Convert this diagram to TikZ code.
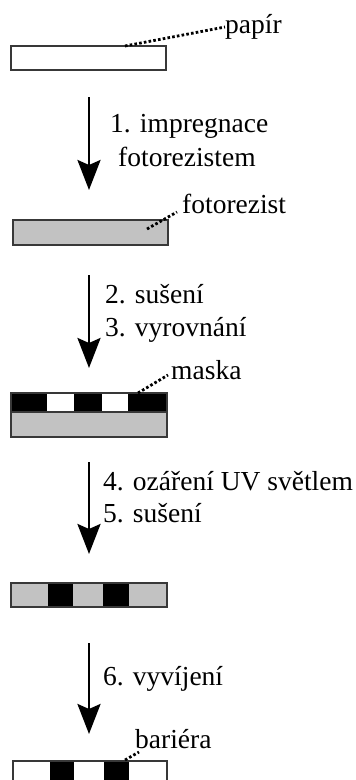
\documentclass[tikz,border=0pt]{standalone}
\usepackage{fontspec}
\setmainfont{Liberation Serif}
\usetikzlibrary{arrows.meta}
\definecolor{resist}{HTML}{C2C2C2}
\definecolor{edge}{HTML}{383838}
\tikzset{
  lbl/.style={anchor=base west, inner sep=0pt, font=\fontsize{27.5}{33}\selectfont},
  layer/.style={draw=edge, line width=1.3pt},
  leader/.style={line width=2.8pt, dash pattern=on 2.6pt off 2.2pt},
  stepflow/.style={line width=2.8pt, -{Stealth[length=30pt, width=23pt, inset=5pt]}},
}
\begin{document}
\begin{tikzpicture}[x=1pt, y=-1pt]
\clip (0,0) rectangle (356,780);
\fill[white] (0,0) rectangle (356,780);

% paper
\draw[layer, fill=white] (11,46) rectangle (166,70);
\coordinate (papL) at (125,46);
\node[lbl] (pap) at (225,33) {papír};
\draw[leader] (papL) -- (pap.west |- 0,27);

% step 1
\coordinate (a1s) at (89,97);
\coordinate (a1e) at (89,190);
\draw[stepflow] (a1s) -- (a1e);
\node[lbl] (s1a) at (110,132) {1. impregnace};
\node[lbl] (s1b) at (118,166) {fotorezistem};

% impregnated paper
\draw[layer, fill=resist] (13,220) rectangle (168,245);
\coordinate (fotL) at (147,229);
\node[lbl] (fot) at (182,213) {fotorezist};
\draw[leader] (fotL) -- (177,212);

% steps 2, 3
\coordinate (a2s) at (89,275);
\coordinate (a2e) at (89,368);
\draw[stepflow] (a2s) -- (a2e);
\node[lbl] (s2) at (105,303) {2. sušení};
\node[lbl] (s3) at (105,336) {3. vyrovnání};

% mask on resist
\fill[resist] (11,412) rectangle (167,437);
\fill[white] (11,393) rectangle (167,412);
\fill[black] (11,393) rectangle (47,412);
\fill[black] (74,393) rectangle (102,412);
\fill[black] (128,393) rectangle (167,412);
\draw[layer] (11,393) rectangle (167,437);
\draw[edge, line width=1.3pt] (11,412) -- (167,412);
\coordinate (maskL) at (138,393);
\node[lbl] (mask) at (171,379) {maska};
\draw[leader] (maskL) -- (168,375);

% steps 4, 5
\coordinate (a3s) at (89,462);
\coordinate (a3e) at (89,554);
\draw[stepflow] (a3s) -- (a3e);
\node[lbl] (s4) at (103,490) {4. ozáření UV světlem};
\node[lbl] (s5) at (103,522) {5. sušení};

% exposed resist
\fill[resist] (11,583) rectangle (167,607);
\fill[black] (48,583) rectangle (73,607);
\fill[black] (103,583) rectangle (129,607);
\draw[layer] (11,583) rectangle (167,607);

% step 6
\coordinate (a4s) at (89,643);
\coordinate (a4e) at (89,734);
\draw[stepflow] (a4s) -- (a4e);
\node[lbl] (s6) at (103,685) {6. vyvíjení};

% developed barrier
\fill[white] (13,761) rectangle (167,790);
\fill[black] (50,761) rectangle (74,790);
\fill[black] (104,761) rectangle (129,790);
\draw[layer] (13,761) rectangle (167,790);
\coordinate (barL) at (125,760);
\node[lbl] (bar) at (135,748) {bariéra};
\draw[leader] (barL) -- (139,752);
\end{tikzpicture}
\end{document}
